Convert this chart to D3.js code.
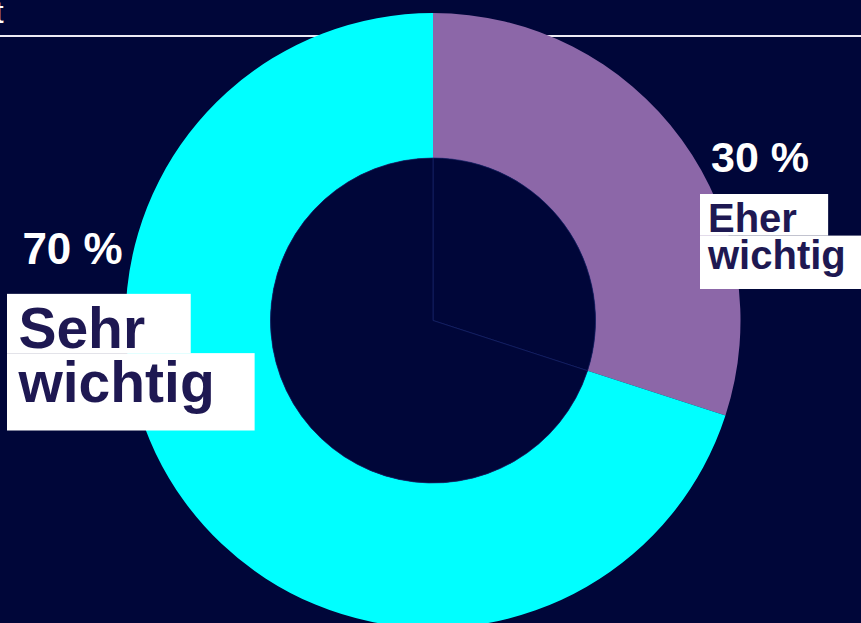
<!DOCTYPE html>
<html>
<head>
<meta charset="utf-8">
<script src="https://cdn.jsdelivr.net/npm/d3@7"></script>
<style>
  html, body { margin: 0; padding: 0; background: #000639; overflow: hidden; }
  svg { display: block; }
</style>
</head>
<body>
<svg id="chart" width="861" height="623"></svg>
<script>
// Share of answers, clockwise from 12 o'clock
const categories = ["Eher wichtig", "Sehr wichtig"];
const shares = [30, 70];
const percentLabels = ["30 %", "70 %"];
const nameLines = [["Eher", "wichtig"], ["Sehr", "wichtig"]];
const colors = ["#8c67a8", "#00ffff"];

const W = 861, H = 623;
const BG = "#000639";
const INK = "#1e1852";

const svg = d3.select("#chart");

svg.append("rect").attr("width", W).attr("height", H).attr("fill", BG);

// heading remnant and rule
svg.append("text")
  .attr("x", -5).attr("y", 23)
  .attr("fill", "#ffffff")
  .attr("font-family", "Liberation Sans, Arial, sans-serif")
  .attr("font-size", 31)
  .text("t");
svg.append("rect")
  .attr("x", 0).attr("y", 35).attr("width", W).attr("height", 2)
  .attr("fill", "#eceaf4");

// donut
const cx = 433, cy = 320.5, rOuter = 307.5, rInner = 162.5;

const pie = d3.pie().sort(null).value(d => d.value).startAngle(0).endAngle(2 * Math.PI);
const rows = categories.map((c, i) => ({ name: c, value: shares[i], color: colors[i] }));
const arcs = pie(rows);

const ring = d3.arc().innerRadius(rInner).outerRadius(rOuter);
const hole = d3.arc().innerRadius(0).outerRadius(rInner);

const g = svg.append("g").attr("transform", `translate(${cx},${cy})`);

g.selectAll("path.slice")
  .data(arcs)
  .join("path")
  .attr("class", "slice")
  .attr("d", ring)
  .attr("fill", d => d.data.color);

// the hole keeps faint slice edges
g.selectAll("path.hole")
  .data(arcs)
  .join("path")
  .attr("class", "hole")
  .attr("d", hole)
  .attr("fill", BG)
  .attr("stroke", "#18256a")
  .attr("stroke-width", 0.7);

// labels: percentage above, name in white boxes below
const labelLayout = [
  { x: 700, pctY: 172, pctSize: 43, base: 232, size: 40, lead: 37, pad: [0.78, 0.7] },
  { x: 7,   pctY: 264, pctSize: 44, base: 348, size: 57, lead: 54, pad: [0.8, 0.7] }
];

const font = "Liberation Sans, Arial, Helvetica, sans-serif";

labelLayout.forEach((L, i) => {
  const fs = L.size;
  const padL = 0.2 * fs;
  const lg = svg.append("g");

  lg.append("text")
    .attr("x", L.x + padL + (i === 0 ? 3 : 4))
    .attr("y", L.pctY)
    .attr("fill", "#ffffff")
    .attr("font-family", font)
    .attr("font-weight", "bold")
    .attr("font-size", L.pctSize)
    .text(percentLabels[i]);

  const lines = nameLines[i];
  const baselines = lines.map((_, k) => L.base + k * L.lead);
  const boxes = lg.append("g");
  const texts = lines.map((t, k) => lg.append("text")
    .attr("x", L.x + padL)
    .attr("y", baselines[k])
    .attr("fill", INK)
    .attr("font-family", font)
    .attr("font-weight", "bold")
    .attr("font-size", fs)
    .text(t));

  lines.forEach((t, k) => {
    const w = texts[k].node().getComputedTextLength();
    const top = k === 0 ? baselines[0] - 0.95 * fs : baselines[0] + 0.09 * fs;
    const bottom = k === 0 ? baselines[0] + 0.09 * fs : baselines[k] + 0.5 * fs;
    boxes.append("rect")
      .attr("x", L.x)
      .attr("y", top)
      .attr("width", padL + w + L.pad[k] * fs)
      .attr("height", bottom - top)
      .attr("fill", "#ffffff");
  });
});
</script>
</body>
</html>
